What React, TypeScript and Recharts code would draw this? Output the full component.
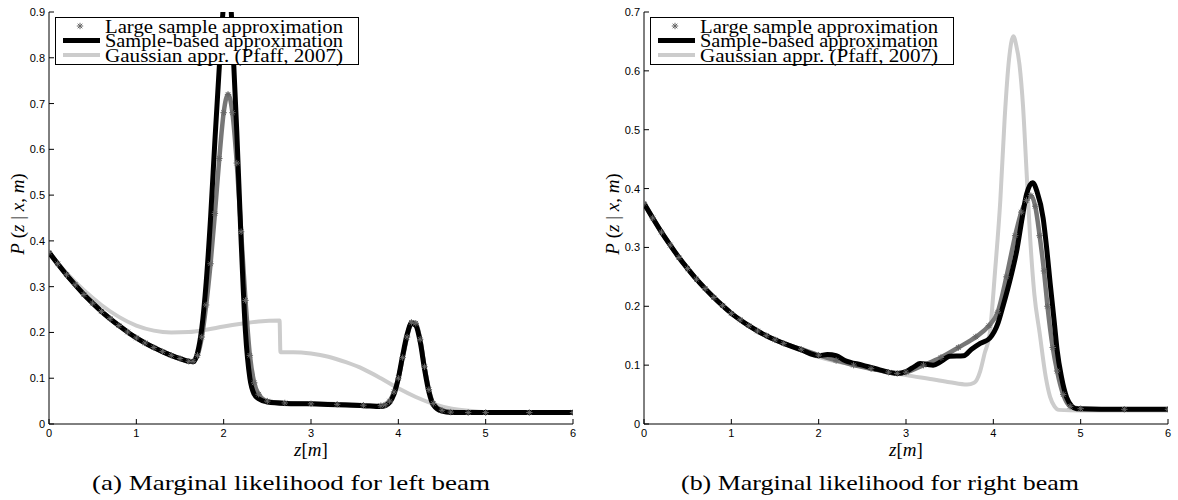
import React from "react"
import { ComposedChart, Line, XAxis, YAxis, Legend, Label } from "recharts"

const zTicks = [0, 1, 2, 3, 4, 5, 6]
const leftTicks = [0, 0.1, 0.2, 0.3, 0.4, 0.5, 0.6, 0.7, 0.8, 0.9]
const rightTicks = [0, 0.1, 0.2, 0.3, 0.4, 0.5, 0.6, 0.7]

const legendNames = ["Large sample approximation", "Sample-based approximation", "Gaussian appr. (Pfaff, 2007)"]
const captions = ["(a) Marginal likelihood for left beam", "(b) Marginal likelihood for right beam"]

// left beam
const leftZ = [
  0, 0.1, 0.2, 0.3, 0.4, 0.5, 0.6, 0.7, 0.8, 0.9, 1.0, 1.1, 1.2, 1.3, 1.4, 1.5, 1.6,
  1.65, 1.7, 1.75, 1.8, 1.85, 1.9, 1.95, 2.0, 2.05, 2.1, 2.15, 2.2, 2.25, 2.3, 2.35, 2.4,
  2.5, 2.7, 3.0, 3.3, 3.6, 3.8,
  3.85, 3.9, 3.95, 4.0, 4.05, 4.1, 4.15, 4.2, 4.25, 4.3, 4.35, 4.4,
  4.5, 4.6, 4.8, 5.0, 5.5, 6.0,
]
const leftLargeP = [
  0.375, 0.35, 0.326, 0.304, 0.283, 0.264, 0.246, 0.23, 0.215, 0.201, 0.188, 0.177, 0.167, 0.158, 0.15, 0.143, 0.137,
  0.137, 0.15, 0.19, 0.26, 0.35, 0.46, 0.58, 0.68, 0.72, 0.68, 0.57, 0.42, 0.27, 0.15, 0.09, 0.065,
  0.05, 0.046, 0.044, 0.043, 0.041, 0.04,
  0.042, 0.05, 0.07, 0.1, 0.145, 0.19, 0.222, 0.22, 0.185, 0.125, 0.075, 0.045,
  0.03, 0.026, 0.025, 0.025, 0.025, 0.025,
]
const leftSampleP = [
  0.375, 0.35, 0.326, 0.304, 0.283, 0.264, 0.246, 0.23, 0.215, 0.201, 0.188, 0.177, 0.167, 0.158, 0.15, 0.143, 0.137,
  0.136, 0.155, 0.21, 0.31, 0.45, 0.62, 0.78, 0.92, 1.0, 0.85, 0.64, 0.4, 0.2, 0.1, 0.065, 0.055,
  0.048, 0.045, 0.044, 0.042, 0.04, 0.038,
  0.04, 0.047, 0.065, 0.1, 0.15, 0.195, 0.22, 0.215, 0.18, 0.12, 0.07, 0.042,
  0.028, 0.025, 0.025, 0.025, 0.025, 0.025,
]
const leftGaussZ = [
  0, 0.2, 0.4, 0.6, 0.8, 1.0, 1.2, 1.4, 1.6, 1.8, 2.0, 2.2, 2.4, 2.64, 2.65,
  2.8, 3.0, 3.2, 3.4, 3.6, 3.8, 4.0, 4.2, 4.4, 4.6, 4.8, 5.0, 5.5, 6.0,
]
const leftGaussP = [
  0.375, 0.33, 0.292, 0.26, 0.234, 0.215, 0.204, 0.2, 0.201, 0.206, 0.213, 0.219, 0.224, 0.226, 0.157,
  0.157, 0.154, 0.147, 0.135, 0.12, 0.1, 0.078, 0.059, 0.044, 0.034, 0.029, 0.026, 0.025, 0.025,
]

// right beam
const rightLargeZ = [
  0, 0.1, 0.2, 0.3, 0.4, 0.5, 0.6, 0.7, 0.8, 0.9, 1.0, 1.1, 1.2, 1.3, 1.4, 1.5, 1.6,
  1.8, 2.0, 2.2, 2.4, 2.6, 2.8, 2.9, 3.0, 3.2, 3.4, 3.6, 3.8, 3.95, 4.05, 4.15, 4.25,
  4.32, 4.38, 4.43, 4.48, 4.53, 4.58, 4.62, 4.68, 4.73, 4.8, 4.88, 5.0, 5.5, 6.0,
]
const rightLargeP = [
  0.375, 0.35, 0.326, 0.304, 0.283, 0.264, 0.246, 0.23, 0.215, 0.201, 0.188, 0.177, 0.167, 0.158, 0.15, 0.143, 0.137,
  0.127, 0.117, 0.108, 0.1, 0.094, 0.088, 0.086, 0.088, 0.1, 0.113, 0.13, 0.148, 0.167, 0.19, 0.25, 0.32,
  0.36, 0.38, 0.388, 0.37, 0.32, 0.26, 0.2, 0.13, 0.09, 0.05, 0.03, 0.026, 0.025, 0.025,
]
const rightSampleZ = [
  0, 0.1, 0.2, 0.3, 0.4, 0.5, 0.6, 0.7, 0.8, 0.9, 1.0, 1.1, 1.2, 1.3, 1.4, 1.5, 1.6,
  1.8, 2.0, 2.1, 2.2, 2.3, 2.5, 2.7, 2.9, 3.0, 3.1, 3.16, 3.25, 3.31, 3.4, 3.5, 3.66, 3.75, 3.85, 3.96,
  4.05, 4.11, 4.2, 4.27, 4.33, 4.38, 4.45, 4.5, 4.57, 4.61, 4.65, 4.7, 4.73, 4.78, 4.84, 4.9, 4.95, 5.5, 6.0,
]
const rightSampleP = [
  0.375, 0.35, 0.326, 0.304, 0.283, 0.264, 0.246, 0.23, 0.215, 0.201, 0.188, 0.177, 0.167, 0.158, 0.15, 0.143, 0.137,
  0.126, 0.116, 0.118, 0.116, 0.108, 0.1, 0.092, 0.086, 0.089, 0.098, 0.103, 0.101, 0.1, 0.106, 0.115, 0.116, 0.127, 0.137, 0.146,
  0.17, 0.2, 0.25, 0.296, 0.35, 0.39, 0.41, 0.395, 0.35, 0.3, 0.24, 0.17, 0.126, 0.08, 0.045, 0.03, 0.026, 0.025, 0.025,
]
const rightGaussZ = [
  0, 0.2, 0.4, 0.6, 0.8, 1.0, 1.2, 1.4, 1.6, 1.8, 2.0, 2.5, 3.0, 3.3, 3.5, 3.7, 3.78, 3.85, 3.9, 3.96,
  4.02, 4.08, 4.13, 4.18, 4.23, 4.26, 4.3, 4.34, 4.38, 4.42, 4.47, 4.53, 4.6, 4.65, 4.7, 4.75, 5.0, 6.0,
]
const rightGaussP = [
  0.375, 0.326, 0.283, 0.246, 0.215, 0.188, 0.167, 0.15, 0.137, 0.125, 0.114, 0.098, 0.083, 0.076, 0.071, 0.067, 0.07, 0.09, 0.12, 0.155,
  0.26, 0.38, 0.52, 0.62, 0.659, 0.645, 0.61, 0.54, 0.43, 0.32, 0.22, 0.155, 0.08, 0.046, 0.03, 0.024, 0.023, 0.023,
]

const toPoints = (z: number[], p: number[]) => z.map((v, i) => ({ z: v, p: p[i] }))

const SERIF = "'Liberation Serif', 'DejaVu Serif', serif"
const SANS = "'Liberation Sans', Arial, sans-serif"
const GRAY_STAR = "#666666"
const LIGHT = "#cccccc"

function Asterisk({ cx, cy, r = 3.2 }: { cx: number; cy: number; r?: number }) {
  const d = r * 0.72
  return (
    <g stroke={GRAY_STAR} strokeWidth={1}>
      <line x1={cx - r} x2={cx + r} y1={cy} y2={cy} />
      <line x1={cx} x2={cx} y1={cy - r} y2={cy + r} />
      <line x1={cx - d} x2={cx + d} y1={cy - d} y2={cy + d} />
      <line x1={cx - d} x2={cx + d} y1={cy + d} y2={cy - d} />
    </g>
  )
}

const starDot = (props: any) => <Asterisk key={`s-${props.index}`} cx={props.cx} cy={props.cy} />

function BottomTick(props: any) {
  const { x, y, payload } = props
  return (
    <g>
      <line x1={x} x2={x} y1={y} y2={y - 5} stroke="#000" />
      <text x={x} y={y + 13} textAnchor="middle" fontFamily={SANS} fontSize={11} fill="#000">
        {payload.value}
      </text>
    </g>
  )
}

function TopTick(props: any) {
  const { x, y } = props
  return <line x1={x} x2={x} y1={y} y2={y + 5} stroke="#000" />
}

function LeftTick(props: any) {
  const { x, y, payload } = props
  return (
    <g>
      <line x1={x} x2={x + 5} y1={y} y2={y} stroke="#000" />
      <text x={x - 4} y={y + 4} textAnchor="end" fontFamily={SANS} fontSize={11} fill="#000">
        {payload.value}
      </text>
    </g>
  )
}

function RightTick(props: any) {
  const { x, y } = props
  return <line x1={x} x2={x - 5} y1={y} y2={y} stroke="#000" />
}

function LegendBox() {
  return (
    <svg width={304} height={48} style={{ display: "block", overflow: "visible" }}>
      <rect x={0.5} y={0.5} width={303} height={47} fill="#fff" stroke="#000" />
      <Asterisk cx={25} cy={9} />
      <line x1={8} x2={45} y1={23.5} y2={23.5} stroke="#000" strokeWidth={5} />
      <line x1={8} x2={45} y1={38} y2={38} stroke={LIGHT} strokeWidth={4} />
      {legendNames.map((n, i) => (
        <text key={n} x={50} y={15.5 + i * 14.5} fontFamily={SERIF} fontSize={18} textLength={238} lengthAdjust="spacingAndGlyphs" fill="#000">
          {n}
        </text>
      ))}
    </svg>
  )
}

function YTitle() {
  return (
    <text transform="translate(24,214) rotate(-90)" textAnchor="middle" fontFamily={SERIF} fontSize={19} fill="#000">
      <tspan fontStyle="italic">P</tspan>
      <tspan> (</tspan>
      <tspan fontStyle="italic">z</tspan>
      <tspan> | </tspan>
      <tspan fontStyle="italic">x</tspan>
      <tspan>, </tspan>
      <tspan fontStyle="italic">m</tspan>
      <tspan>)</tspan>
    </text>
  )
}

interface PanelProps {
  large: { z: number; p: number }[]
  sample: { z: number; p: number }[]
  gauss: { z: number; p: number }[]
  yTicks: number[]
  yMax: number
  width: number
  rightMargin: number
}

function Panel({ large, sample, gauss, yTicks, yMax, width, rightMargin }: PanelProps) {
  return (
    <ComposedChart width={width} height={500} margin={{ top: 12, right: rightMargin, left: 19, bottom: 46 }}>
      <XAxis
        xAxisId="b"
        dataKey="z"
        type="number"
        domain={[0, 6]}
        ticks={zTicks}
        allowDataOverflow
        height={30}
        tickSize={0}
        tickMargin={0}
        tickLine={false}
        tick={<BottomTick />}
        axisLine={{ stroke: "#000" }}
      >
        <Label
          content={() => (
            <text x={311} y={456} textAnchor="middle" fontFamily={SERIF} fontSize={19} fill="#000">
              <tspan fontStyle="italic">z</tspan>
              <tspan>[</tspan>
              <tspan fontStyle="italic">m</tspan>
              <tspan>]</tspan>
            </text>
          )}
        />
      </XAxis>
      <XAxis
        xAxisId="t"
        orientation="top"
        dataKey="z"
        type="number"
        domain={[0, 6]}
        ticks={zTicks}
        height={0}
        tickSize={0}
        tickMargin={0}
        tickLine={false}
        tick={<TopTick />}
        axisLine={{ stroke: "#000" }}
      />
      <YAxis
        yAxisId="l"
        type="number"
        domain={[0, yMax]}
        ticks={yTicks}
        allowDataOverflow
        width={30}
        tickSize={0}
        tickMargin={0}
        tickLine={false}
        tick={<LeftTick />}
        axisLine={{ stroke: "#000" }}
      >
        <Label content={() => <YTitle />} />
      </YAxis>
      <YAxis
        yAxisId="r"
        orientation="right"
        type="number"
        domain={[0, yMax]}
        ticks={yTicks}
        allowDataOverflow
        width={0}
        tickSize={0}
        tickMargin={0}
        tickLine={false}
        tick={<RightTick />}
        axisLine={{ stroke: "#000" }}
      />
      <Legend
        layout="horizontal"
        verticalAlign="middle"
        align="center"
        wrapperStyle={{ top: 17, left: 55, width: 304, height: 48 }}
        content={() => <LegendBox />}
      />
      <Line
        xAxisId="b"
        yAxisId="l"
        data={gauss}
        dataKey="p"
        type="monotone"
        stroke={LIGHT}
        strokeWidth={4}
        dot={false}
        isAnimationActive={false}
      />
      <Line
        xAxisId="b"
        yAxisId="l"
        data={large}
        dataKey="p"
        type="monotone"
        stroke="#777777"
        strokeWidth={4.5}
        dot={starDot}
        isAnimationActive={false}
      />
      <Line
        xAxisId="b"
        yAxisId="l"
        data={sample}
        dataKey="p"
        type="monotone"
        stroke="#000"
        strokeWidth={5}
        dot={false}
        isAnimationActive={false}
      />
    </ComposedChart>
  )
}

export default function App() {
  return (
    <div style={{ position: "absolute", left: 0, top: 0, width: 1178, height: 500, background: "#fff" }}>
      <div style={{ position: "absolute", left: 0, top: 0 }}>
        <Panel
          large={toPoints(leftZ, leftLargeP)}
          sample={toPoints(leftZ, leftSampleP)}
          gauss={toPoints(leftGaussZ, leftGaussP)}
          yTicks={leftTicks}
          yMax={0.9}
          width={590}
          rightMargin={17}
        />
      </div>
      <div style={{ position: "absolute", left: 595, top: 0 }}>
        <Panel
          large={toPoints(rightLargeZ, rightLargeP)}
          sample={toPoints(rightSampleZ, rightSampleP)}
          gauss={toPoints(rightGaussZ, rightGaussP)}
          yTicks={rightTicks}
          yMax={0.7}
          width={583}
          rightMargin={10}
        />
      </div>
      <svg width={1178} height={500} style={{ position: "absolute", left: 0, top: 0, pointerEvents: "none" }}>
        <text x={291} y={490} textAnchor="middle" fontFamily={SERIF} fontSize={22} textLength={398} lengthAdjust="spacingAndGlyphs" fill="#000">
          {captions[0]}
        </text>
        <text x={880} y={490} textAnchor="middle" fontFamily={SERIF} fontSize={22} textLength={398} lengthAdjust="spacingAndGlyphs" fill="#000">
          {captions[1]}
        </text>
      </svg>
    </div>
  )
}
